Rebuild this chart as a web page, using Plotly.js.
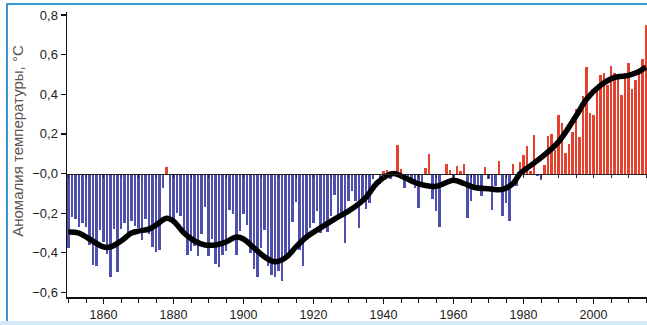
<!DOCTYPE html>
<html>
<head>
<meta charset="utf-8">
<script src="https://cdn.plot.ly/plotly-3.0.1.min.js"></script>
<style>
html,body{margin:0;padding:0;background:#fff;width:647px;height:325px;overflow:hidden;}
#chart{position:absolute;left:0;top:0;width:647px;height:325px;}
#frame{position:absolute;left:6px;top:3px;width:641px;height:318px;border-left:2px solid #3b97d3;border-top:2px solid #3b97d3;box-sizing:border-box;pointer-events:none;}
#band{position:absolute;left:0;top:321px;width:647px;height:4px;background:#d4e9f7;}
</style>
</head>
<body>
<div id="chart"></div>
<div id="frame"></div>
<div id="band"></div>
<script>
// Years 1850..2015
const firstYear = 1850;
const anomalies = [
-0.373,-0.218,-0.228,-0.269,-0.248,-0.272,-0.358,-0.461,-0.467,-0.284,
-0.343,-0.407,-0.524,-0.278,-0.494,-0.279,-0.251,-0.321,-0.238,-0.262,
-0.276,-0.335,-0.227,-0.304,-0.368,-0.395,-0.384,-0.075,0.035,-0.230,
-0.227,-0.200,-0.213,-0.296,-0.409,-0.389,-0.367,-0.418,-0.307,-0.171,
-0.416,-0.330,-0.455,-0.473,-0.410,-0.390,-0.186,-0.206,-0.412,-0.289,
-0.203,-0.259,-0.402,-0.479,-0.520,-0.377,-0.283,-0.465,-0.511,-0.522,
-0.490,-0.544,-0.437,-0.424,-0.244,-0.141,-0.383,-0.468,-0.333,-0.275,
-0.247,-0.187,-0.302,-0.276,-0.294,-0.215,-0.108,-0.210,-0.206,-0.350,
-0.137,-0.087,-0.137,-0.273,-0.131,-0.178,-0.147,-0.026,-0.006,-0.052,
0.014,0.020,-0.027,-0.004,0.144,0.025,-0.071,-0.038,-0.039,-0.074,
-0.173,-0.052,0.028,0.097,-0.129,-0.190,-0.267,-0.007,0.046,0.017,
-0.049,0.038,0.014,0.048,-0.223,-0.140,-0.068,-0.074,-0.113,0.032,
-0.027,-0.186,-0.065,0.062,-0.214,-0.149,-0.241,0.047,-0.062,0.057,
0.092,0.140,0.011,0.194,-0.014,-0.030,0.045,0.192,0.198,0.118,
0.296,0.254,0.105,0.148,0.208,0.325,0.183,0.390,0.539,0.306,
0.294,0.441,0.496,0.505,0.447,0.545,0.506,0.491,0.395,0.506,
0.560,0.425,0.470,0.514,0.579,0.750
];
const years = anomalies.map((v,i)=>firstYear+i);

// Smoothed curve
const smoothYears = [1850,1853,1856,1860,1862,1865,1868,1870,1873,1875,1878,1880,1883,1886,1889,1892,1895,1898,1900,1903,1906,1909,1912,1915,1918,1922,1926,1931,1935,1938,1941,1943,1946,1949,1952,1955,1958,1960,1963,1966,1970,1974,1977,1979,1982,1985,1990,1995,1998,2002,2006,2010,2013,2015];
const smoothVals  = [-0.295,-0.30,-0.33,-0.37,-0.37,-0.34,-0.30,-0.29,-0.28,-0.26,-0.225,-0.24,-0.30,-0.34,-0.36,-0.36,-0.345,-0.32,-0.33,-0.375,-0.42,-0.445,-0.425,-0.37,-0.32,-0.274,-0.23,-0.178,-0.12,-0.05,-0.01,0.0,-0.02,-0.045,-0.06,-0.064,-0.045,-0.034,-0.05,-0.07,-0.076,-0.08,-0.05,0.0,0.04,0.08,0.16,0.29,0.375,0.445,0.485,0.495,0.515,0.537];

const yTickVals = [-0.6,-0.4,-0.2,0,0.2,0.4,0.6,0.8];
const yTickText = ["−0,6","−0,4","−0,2","−0,0","0,2","0,4","0,6","0,8"];
const yTitle = "Аномалия температуры, °С";

const blue = "#4f4fae", red = "#e5412f";
const barColors = anomalies.map(v => v >= 0 ? red : blue);

const yr = [-0.6226, 0.815];
const xr = [1849.57, 2015.28];
const zeroPos = (0 - yr[0])/(yr[1]-yr[0]);

const data = [
  {type:'bar', x:years, y:anomalies, width:0.6, marker:{color:barColors, line:{width:0}}, hoverinfo:'x+y'},
  {type:'scatter', mode:'lines', x:smoothYears, y:smoothVals, xaxis:'x2', line:{color:'#000', width:5.5, shape:'spline', smoothing:1.0}}
];

const font = {family:'"Liberation Sans", Arial, sans-serif', size:12, color:'#222'};
const layout = {
  width:647, height:325,
  margin:{l:67, r:0, t:12, b:27.5},
  paper_bgcolor:'rgba(0,0,0,0)', plot_bgcolor:'rgba(0,0,0,0)',
  showlegend:false, bargap:0,
  font: font,
  xaxis:{range:xr, showgrid:false, zeroline:false, showline:true, linecolor:'#111', linewidth:1.5,
         ticks:'outside', ticklen:5, tickwidth:1.2, tickcolor:'#111', tick0:1860, dtick:20,
         minor:{dtick:5, tick0:1850, ticks:'outside', ticklen:4, tickwidth:1, tickcolor:'#111'},
         tickfont:{family:font.family, size:12.5, color:'#222'}},
  xaxis2:{range:xr, overlaying:'x', anchor:'free', position:zeroPos, showgrid:false, zeroline:false,
          showline:true, linecolor:'#222', linewidth:1.3, ticks:'outside', ticklen:3, tickwidth:1,
          tickcolor:'#222', tick0:1850, dtick:5, showticklabels:false},
  yaxis:{range:yr, showgrid:false, zeroline:false, showline:true, linecolor:'#111', linewidth:1.5,
         ticks:'outside', ticklen:5, tickwidth:1.2, tickcolor:'#111',
         tickmode:'array', tickvals:yTickVals, ticktext:yTickText,
         tickfont:{family:font.family, size:13, color:'#222'}},
  annotations:[{text:yTitle, xref:'paper', yref:'paper', x:(18-67)/580, y:(297.5-141)/285.5,
                textangle:-90, showarrow:false, xanchor:'center', yanchor:'middle',
                font:{family:font.family, size:15, color:'#555'}}]
};

Plotly.newPlot('chart', data, layout, {staticPlot:true, displayModeBar:false});
</script>
</body>
</html>
